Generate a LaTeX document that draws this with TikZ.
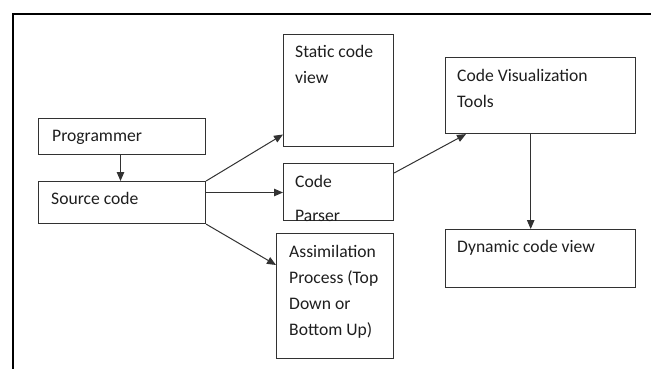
\documentclass[tikz,border=0pt]{standalone}
\usepackage{fontspec}
\setmainfont{Carlito}
\usetikzlibrary{arrows.meta}
\definecolor{ink}{RGB}{30,30,30}
\definecolor{edge}{RGB}{50,50,50}
\tikzset{
  >={Triangle[length=9pt,width=7.5pt]},
  box/.style={draw=edge,line width=1.1pt,anchor=north west,inner sep=0pt},
  % anchored at the baseline of the last line
  txt/.style={anchor=base west,align=left,inner sep=0pt,text=ink,
    font=\fontsize{17.6}{26}\selectfont},
  flow/.style={->,line width=1pt,draw=edge},
}
\begin{document}
\begin{tikzpicture}[x=1pt,y=-1pt]
  \useasboundingbox (0,0) rectangle (651,369);
  % open frame
  \draw[line width=2.2pt] (13.3,369) -- (13.3,14) -- (651,14);

  % boxes
  \node[box,minimum width=167pt,minimum height=36pt] (prog) at (38,118) {};
  \node[box,minimum width=167pt,minimum height=42pt] (src) at (38,181) {};
  \node[box,minimum width=110pt,minimum height=112pt] (static) at (283,34) {};
  \node[box,minimum width=110pt,minimum height=57pt] (parser) at (283,163) {};
  \node[box,minimum width=117pt,minimum height=125pt] (assim) at (276,233) {};
  \node[box,minimum width=190pt,minimum height=76pt] (tools) at (445,57) {};
  \node[box,minimum width=190pt,minimum height=58pt] (dyn) at (445,229) {};

  % box texts
  \node[txt] at ([shift={(14,23.7)}]prog.north west) {Programmer};
  \node[txt] at ([shift={(13,23.7)}]src.north west) {Source code};
  \node[txt] at ([shift={(12,49.3)}]static.north west) {Static code\\view};
  \begin{scope}
    \clip (parser.north west) rectangle (parser.south east);
    \node[txt] at ([shift={(12,58)}]parser.north west) {Code\\[8pt]Parser};
  \end{scope}
  \node[txt] at ([shift={(13,102)}]assim.north west) {Assimilation\\Process (Top\\Down or\\Bottom Up)};
  \node[txt] at ([shift={(12,50)}]tools.north west) {Code Visualization\\Tools};
  \node[txt] at ([shift={(12,23.7)}]dyn.north west) {Dynamic code view};

  % connectors
  \draw[flow] (prog.south -| 120.5,0) -- (src.north -| 120.5,0);
  \draw[flow] (src.north east) -- (static.west |- 0,134.5);
  \draw[flow] (src.east |- 0,192.5) -- (parser.west |- 0,192.5);
  \draw[flow] (src.south east) -- (assim.west |- 0,265);
  \draw[flow] (parser.east |- 0,173) -- (tools.south -| 466,0);
  \draw[flow] (tools.south -| 530.7,0) -- (dyn.north -| 530.7,0);
\end{tikzpicture}
\end{document}
